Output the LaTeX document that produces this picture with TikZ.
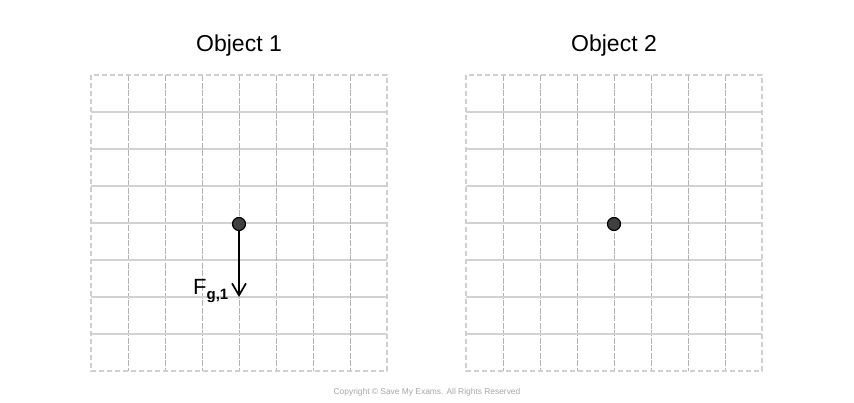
\documentclass[tikz,border=0pt]{standalone}
\usepackage{fontspec}
\setmainfont{Liberation Sans}
\usetikzlibrary{arrows.meta}
\definecolor{gridh}{HTML}{D2D2D2}
\definecolor{gridv}{HTML}{B4B4B4}
\definecolor{border}{HTML}{CFCFCF}
\definecolor{dotfill}{HTML}{404040}
\tikzset{
  hline/.style={draw=gridh, line width=1.2pt},
  vline/.style={draw=gridv, line width=0.8pt, dash pattern=on 6pt off 1.5pt},
  frame/.style={draw=border, line width=1.4pt, dash pattern=on 5pt off 3pt},
  pointmass/.style={circle, fill=dotfill, draw=black, line width=1.2pt, minimum size=13pt, inner sep=0pt},
  title/.style={font=\fontsize{23}{27}\selectfont, inner sep=0pt, anchor=base},
  force/.style={draw=black, line width=1.7pt, -{Straight Barb[length=12pt, width=14pt, line width=1.7pt]}},
}
\begin{document}
\begin{tikzpicture}[x=1pt, y=-1pt]
\useasboundingbox (0,0) rectangle (854,402);
% grids
\foreach \ox in {91,466}{
  \foreach \i in {1,...,7}{
    \draw[hline] (\ox,{75+\i*37}) -- ({\ox+296},{75+\i*37});
    \draw[vline] ({\ox+\i*37},75) -- ({\ox+\i*37},371);
  }
  \draw[frame] (\ox,75) rectangle ({\ox+296},371);
}
\node[title] (t1) at (239,51.5) {Object 1};
\node[title] (t2) at (614,51.5) {Object 2};
\node[pointmass] (m1) at (239,224) {};
\node[pointmass] (m2) at (614,224) {};
\coordinate (f1end) at (239,297);
\draw[force] (m1) -- (f1end);
\node[anchor=base west, inner sep=0pt, font=\fontsize{22}{26}\selectfont] (lab) at (193,294) {F\textsubscript{\fontsize{15}{18}\selectfont\raisebox{-0.25ex}{\textbf{g,1}}}};
\node[font=\fontsize{8.4}{10}\selectfont, text=gray!70, inner sep=0pt] (copy) at (427,392) {Copyright © Save My Exams. All Rights Reserved};
\end{tikzpicture}
\end{document}
